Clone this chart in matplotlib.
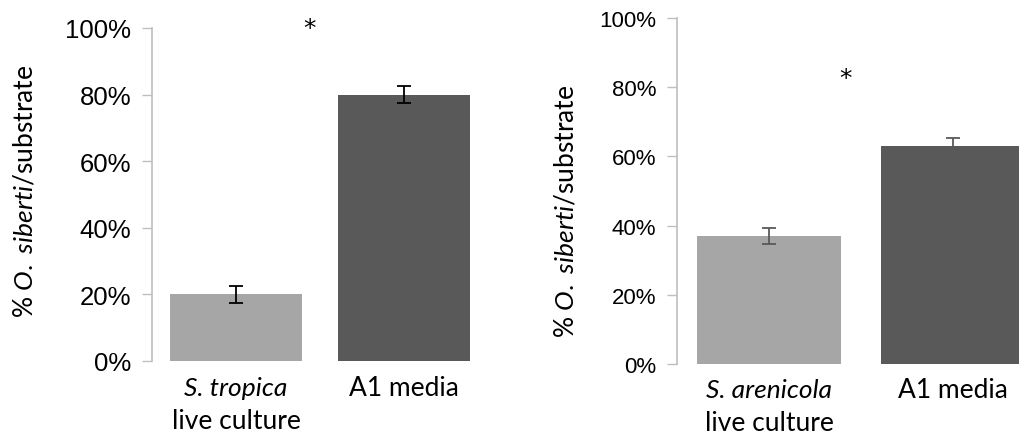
import matplotlib.pyplot as plt

# valores das barras (fração) e erro padrão
categorias_esq = ["S. tropica", "A1 media"]
valores_esq = [0.20, 0.80]
erros_esq = [0.025, 0.025]

categorias_dir = ["S. arenicola", "A1 media"]
valores_dir = [0.37, 0.63]
erros_dir = [0.023, 0.022]

ticks_y = [0.0, 0.2, 0.4, 0.6, 0.8, 1.0]
rotulos_y = ["0%", "20%", "40%", "60%", "80%", "100%"]

cores = ["#a6a6a6", "#595959"]
W, H = 1019, 439
fonte = "Lato"
tam = 19

plt.rcParams["mathtext.fontset"] = "custom"
plt.rcParams["mathtext.it"] = "Lato:italic"
plt.rcParams["mathtext.rm"] = "Lato"


def eixo(fig, x0, x1, y0, y1):
    # posição em pixels -> fração da figura
    return fig.add_axes([x0 / W, (H - y0) / H, (x1 - x0) / W, (y0 - y1) / H])


def plotPainel(ax, valores, erros, cor_erro, tam_ticks, xmax):
    pos = range(len(valores))
    ax.bar(pos, valores, width=0.786, color=cores, zorder=2)
    ax.errorbar(pos, valores, yerr=erros, fmt="none", ecolor=cor_erro,
                elinewidth=1.3, capsize=5, capthick=1.3, zorder=3)
    ax.set_xlim(-0.5, xmax)
    ax.set_ylim(0, 1.0)
    ax.set_yticks(ticks_y)
    ax.set_yticklabels(rotulos_y, fontsize=tam_ticks, family="Liberation Sans")
    ax.tick_params(axis="y", length=7, width=1, color="#bfbfbf", pad=8)
    ax.set_xticks([])
    for lado in ["top", "right", "bottom"]:
        ax.spines[lado].set_visible(False)
    ax.spines["left"].set_color("#bfbfbf")
    ax.spines["left"].set_linewidth(1.2)
    ax.patch.set_alpha(0)


def rotuloY(fig, x, yc):
    # rótulo vertical com o nome da espécie em itálico
    fig.text(x / W, (H - yc) / H, r"% $\it{O.\ siberti}$/substrate",
             rotation=90, ha="center", va="center", fontsize=tam, family=fonte)


def rotulosX(fig, ax, cats, y1, y2):
    for i, c in enumerate(cats):
        xd = ax.transData.transform((i, 0))[0]
        if i == 0:
            fig.text(xd / W, (H - y1) / H, c, ha="center", va="center",
                     fontsize=tam, family=fonte, style="italic")
            fig.text(xd / W, (H - y2) / H, "live culture", ha="center", va="center",
                     fontsize=tam, family=fonte)
        else:
            fig.text(xd / W, (H - y1) / H, c, ha="center", va="center",
                     fontsize=tam, family=fonte)


fig = plt.figure(figsize=(W / 100, H / 100), dpi=100)

ax1 = eixo(fig, 152, 488, 362, 29)
plotPainel(ax1, valores_esq, erros_esq, "black", 18.5, 1.5)

ax2 = eixo(fig, 677, 1049, 365, 19)
plotPainel(ax2, valores_dir, erros_dir, "#595959", 16, 1.52)

rotuloY(fig, 25, 191)
rotuloY(fig, 566, 211)

rotulosX(fig, ax1, categorias_esq, 389, 422)
rotulosX(fig, ax2, categorias_dir, 391, 424)

# asteriscos de significância
fig.text(309 / W, (H - 36) / H, "*", ha="center", va="baseline", fontsize=18, family="DejaVu Sans")
fig.text(845 / W, (H - 86) / H, "*", ha="center", va="baseline", fontsize=18, family="DejaVu Sans")

fig.savefig("out.png", dpi=100)
